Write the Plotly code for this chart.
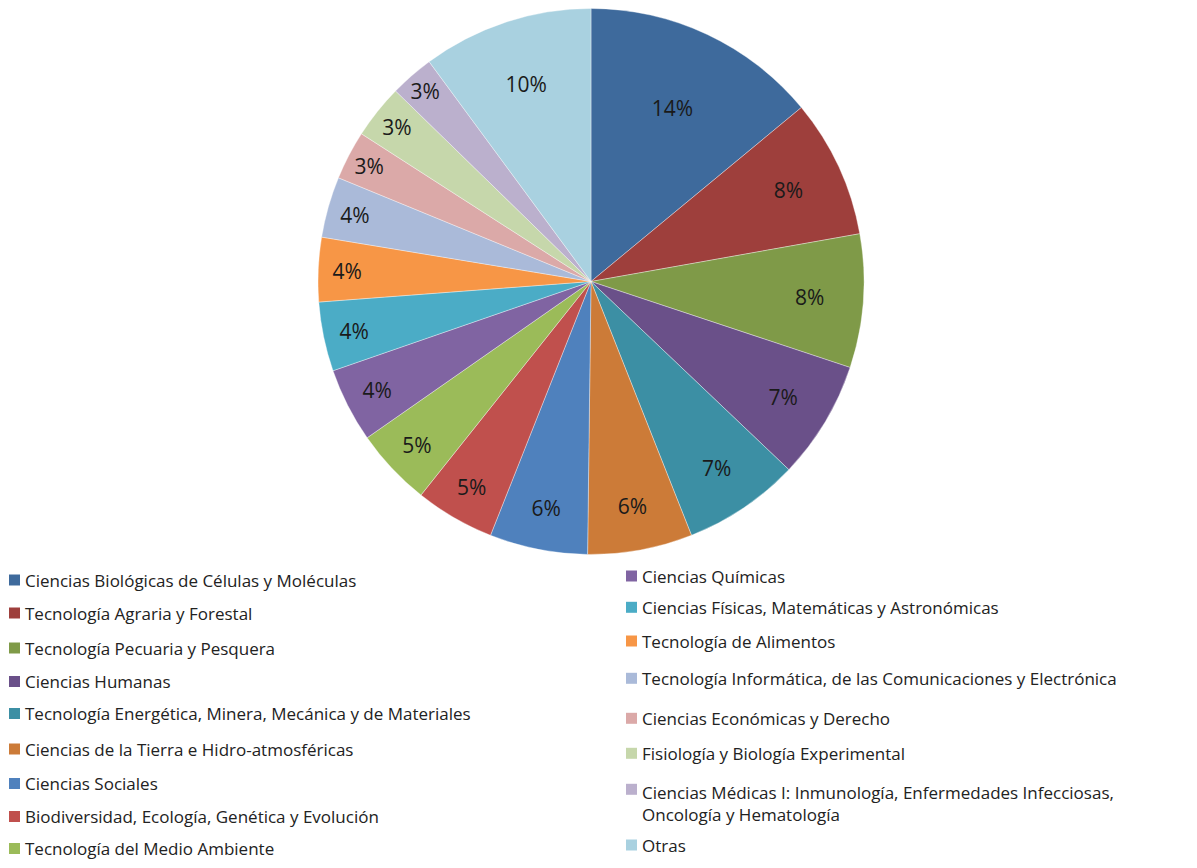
import plotly.graph_objects as go

# Datos (porcentaje de proyectos por área)
areas = [
    "Ciencias Biológicas de Células y Moléculas",
    "Tecnología Agraria y Forestal",
    "Tecnología Pecuaria y Pesquera",
    "Ciencias Humanas",
    "Tecnología Energética, Minera, Mecánica y de Materiales",
    "Ciencias de la Tierra e Hidro-atmosféricas",
    "Ciencias Sociales",
    "Biodiversidad, Ecología, Genética y Evolución",
    "Tecnología del Medio Ambiente",
    "Ciencias Químicas",
    "Ciencias Físicas, Matemáticas y Astronómicas",
    "Tecnología de Alimentos",
    "Tecnología Informática, de las Comunicaciones y Electrónica",
    "Ciencias Económicas y Derecho",
    "Fisiología y Biología Experimental",
    "Ciencias Médicas I: Inmunología, Enfermedades Infecciosas,<br>Oncología y Hematología",
    "Otras",
]
valores = [14.0, 8.2, 7.9, 7.0, 6.9, 6.2, 5.8, 4.7, 4.6, 4.4, 4.1, 3.8, 3.6, 2.9, 3.2, 2.6, 10.1]
colores = [
    "#3E6A9C", "#9E3F3C", "#7F9A48", "#6A5089", "#3C8FA4", "#CC7B38",
    "#4F81BD", "#C0504D", "#9BBB59", "#8064A2", "#4BACC6", "#F79646",
    "#AABAD9", "#DBA9A8", "#C6D7AB", "#BBB0CD", "#A9D1E0",
]

# la página tiene 8px de margen en el body
OFF = 8
W, H = 1197 - 2 * OFF, 868 - 2 * OFF
FONT = "Open Sans"


def px(x):
    return (x - OFF) / W


def py(y):
    return min(1, 1 - (y - OFF) / H)


fig = go.Figure(go.Pie(
    labels=areas,
    values=valores,
    sort=False,
    direction="clockwise",
    rotation=0,
    marker=dict(colors=colores, line=dict(color="rgba(255,255,255,0.6)", width=0.6)),
    texttemplate="%{percent:.0%}",
    textposition="inside",
    insidetextorientation="horizontal",
    textfont=dict(family=FONT, size=21, color="#1a1a1a"),
    showlegend=False,
    hoverinfo="label+percent",
    domain=dict(x=[px(318), px(864)], y=[py(555), py(8)]),
))

# leyenda manual en dos columnas (como en Excel)
izq_y = [580, 613, 648, 681.5, 713.5, 749, 783.5, 816.5, 848.5]
der_y = [576, 607.3, 641, 678.3, 718.3, 753.3, 803, 845]

shapes, annots = [], []
for i, (area, col) in enumerate(zip(areas, colores)):
    if i < 9:
        x0, y = 9, izq_y[i]
    else:
        x0, y = 626, der_y[i - 9]
    ysq = 789.3 if i == 15 else y
    shapes.append(dict(
        type="rect", xref="paper", yref="paper",
        x0=px(x0), x1=px(x0 + 11),
        y0=py(ysq + 5.5), y1=py(ysq - 5.5),
        fillcolor=col, line=dict(width=0),
    ))
    annots.append(dict(
        text=area, xref="paper", yref="paper",
        x=px(x0 + 14), y=py(y),
        xanchor="left", yanchor="middle", align="left",
        showarrow=False,
        font=dict(family=FONT, size=17, color="#222222"),
    ))

fig.update_layout(
    width=W, height=H,
    margin=dict(l=0, r=0, t=0, b=0),
    paper_bgcolor="white",
    shapes=shapes,
    annotations=annots,
)

fig.write_html("out.html")
